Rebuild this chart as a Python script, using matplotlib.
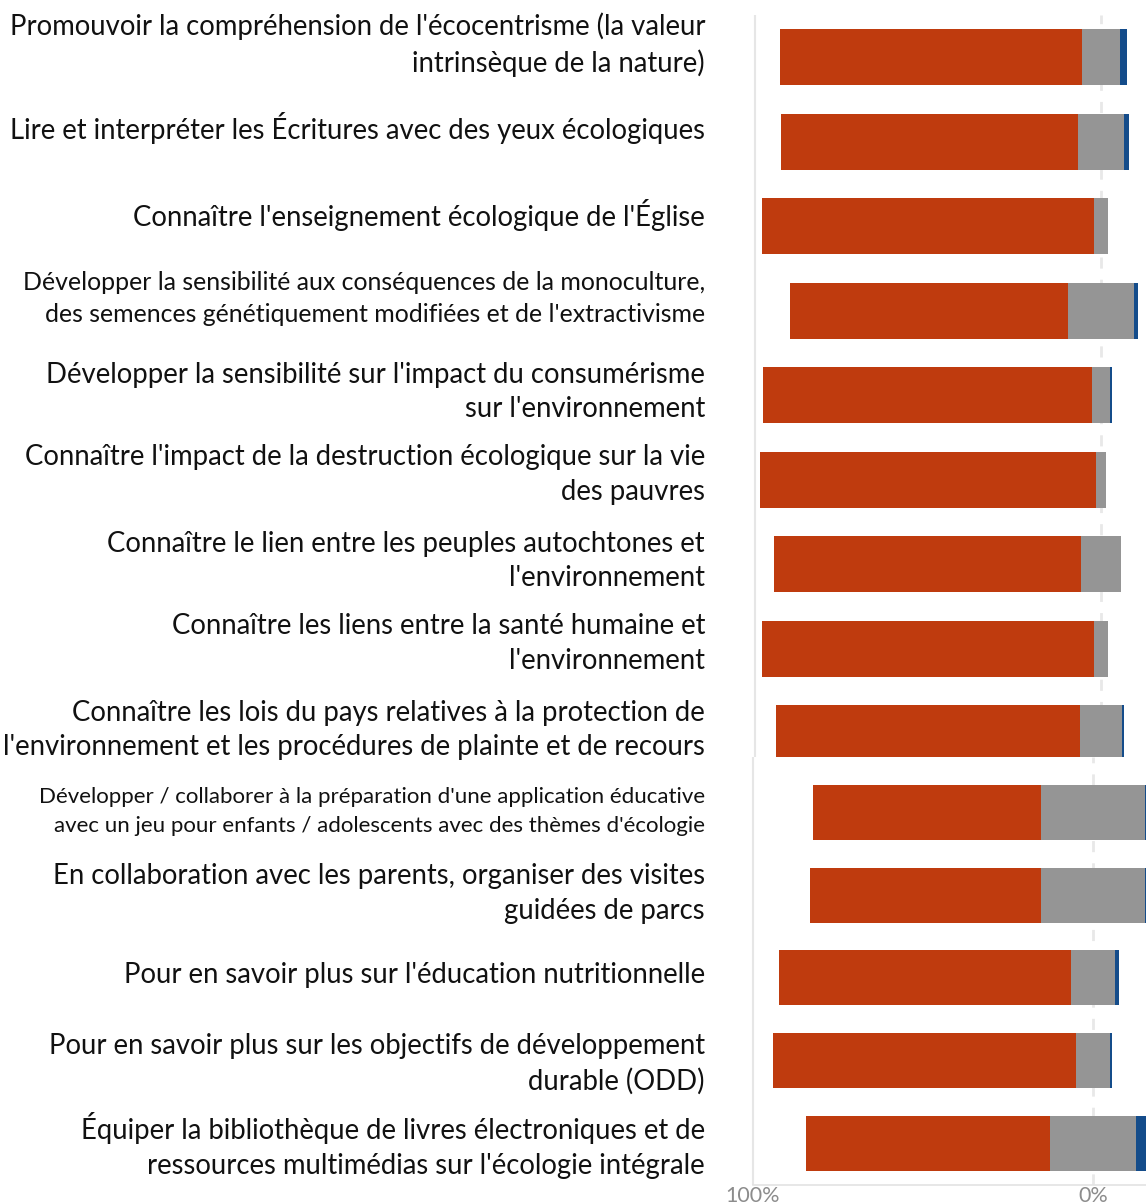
import matplotlib.pyplot as plt
import matplotlib.transforms as mtransforms
import numpy as np

# -----------------------------------------------
# Data (in %)
# -----------------------------------------------

labels = [
    "Promouvoir la compréhension de l'écocentrisme (la valeur\nintrinsèque de la nature)",
    "Lire et interpréter les Écritures avec des yeux écologiques",
    "Connaître l'enseignement écologique de l'Église",
    "Développer la sensibilité aux conséquences de la monoculture,\ndes semences génétiquement modifiées et de l'extractivisme",
    "Développer la sensibilité sur l'impact du consumérisme\nsur l'environnement",
    "Connaître l'impact de la destruction écologique sur la vie\ndes pauvres",
    "Connaître le lien entre les peuples autochtones et\nl'environnement",
    "Connaître les liens entre la santé humaine et\nl'environnement",
    "Connaître les lois du pays relatives à la protection de\nl'environnement et les procédures de plainte et de recours",
    "Développer / collaborer à la préparation d'une application éducative\navec un jeu pour enfants / adolescents avec des thèmes d'écologie",
    "En collaboration avec les parents, organiser des visites\nguidées de parcs",
    "Pour en savoir plus sur l'éducation nutritionnelle",
    "Pour en savoir plus sur les objectifs de développement\ndurable (ODD)",
    "Équiper la bibliothèque de livres électroniques et de\nressources multimédias sur l'écologie intégrale",
]

orange = np.array([87.3, 85.8, 96.0, 80.3, 95.1, 97.1, 88.9, 96.0, 87.7, 67.0, 67.9, 86.0, 89.1, 71.9])
gray = np.array([11.1, 13.2, 4.0, 19.3, 5.1, 3.1, 11.3, 4.0, 12.3, 30.6, 30.6, 13.0, 10.0, 25.3])
blue = np.array([2.1, 1.4, 0.0, 1.0, 0.5, 0.0, 0.0, 0.0, 0.5, 2.4, 1.5, 1.2, 0.6, 2.9])

tick_values = [-100, 0]
tick_labels = ["100%", "0%"]

# -----------------------------------------------
# Layout / style
# -----------------------------------------------

W, H = 1146, 1202
C_ORANGE = '#BF3B0E'
C_GRAY = '#959595'
C_BLUE = '#144C8A'
FONT = ['Lato', 'DejaVu Sans']

# label size factor, vertical nudge (px, + = up) and line spacing per row
label_scale = [1, 1, 1, 0.905, 1, 1, 1, 1, 1, 0.81, 1, 1, 1, 1]
label_dy = [12, 14, 11, 12, 3, 5, 3, 5, 3, 1, 2, 2.5, -3.5, -2]
label_ls = [1.41, 1.41, 1.41, 1.485, 1.41, 1.41, 1.41, 1.41, 1.41, 1.53, 1.41, 1.41, 1.41, 1.41]
BASE_SIZE = 19.8

fig = plt.figure(figsize=(W / 100, H / 100), dpi=100)

# the picture is made of two stacked parts with a slightly different x scale
ax_top = fig.add_axes([740 / W, 1 - 757 / H, 406 / W, 742 / H])
ax_bot = fig.add_axes([740 / W, 1 - 1185 / H, 406 / W, 428 / H])

parts = [
    (ax_top, range(0, 9), (-100 - 15 / 3.46, 45 / 3.46), (8 + 24 / 84.5, -42 / 84.5), 56 / 84.5),
    (ax_bot, range(9, 14), (-100 - 13 / 3.40, 53 / 3.40), (4 + 41.7 / 82.7, -55.5 / 82.7), 55 / 82.7),
]

for ax, rows, xl, yl, bh in parts:
    rows = list(rows)
    y = np.arange(len(rows))
    o = orange[rows]
    g = gray[rows]
    b = blue[rows]

    # neutral (gray) is centred on zero, orange goes left, blue goes right
    ax.barh(y, -o, left=-g / 2, height=bh, color=C_ORANGE, zorder=3)
    ax.barh(y, g, left=-g / 2, height=bh, color=C_GRAY, zorder=3)
    ax.barh(y, b, left=g / 2, height=bh, color=C_BLUE, zorder=3)

    ax.axvline(-100, color='#e6e6e6', linewidth=1.5, zorder=1)
    ax.axvline(0, color='#e8e8e8', linewidth=2, linestyle=(0, (4, 4)), zorder=1)

    ax.set_xlim(*xl)
    ax.set_ylim(*yl)
    ax.set_yticks([])
    for s in ['top', 'right', 'left', 'bottom']:
        ax.spines[s].set_visible(False)

    # row labels, right aligned at x = 705 px
    trans = mtransforms.blended_transform_factory(fig.transFigure, ax.transData)
    for i, r in enumerate(rows):
        off = mtransforms.ScaledTranslation(0, label_dy[r] / 100, fig.dpi_scale_trans)
        ax.text(705 / W, i, labels[r], transform=trans + off,
                ha='right', va='center', multialignment='right',
                fontsize=BASE_SIZE * label_scale[r], family=FONT,
                color='#111111', linespacing=label_ls[r])

ax_top.set_xticks([])

ax_bot.spines['bottom'].set_visible(True)
ax_bot.spines['bottom'].set_color('#e3e3e3')
ax_bot.spines['bottom'].set_linewidth(1.2)
ax_bot.spines['bottom'].set_bounds(-100, ax_bot.get_xlim()[1])
ax_bot.set_xticks(tick_values)
ax_bot.set_xticklabels(tick_labels, family=FONT, fontsize=15.5, color='#8c8c8c')
ax_bot.tick_params(axis='x', length=0, pad=1)

plt.savefig('out.png', dpi=100)
